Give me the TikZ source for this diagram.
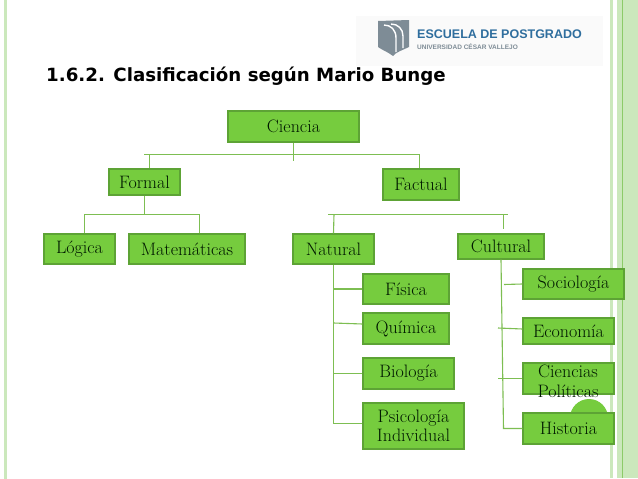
\documentclass[tikz,border=0pt]{standalone}
\usepackage{fontspec}
\newfontfamily\titlefont{DejaVu Sans}
\newfontfamily\logofont{Liberation Sans}
\definecolor{boxfill}{HTML}{76CC3E}
\definecolor{boxline}{HTML}{5DA335}
\definecolor{linkline}{HTML}{7DBE52}
\definecolor{barlight}{HTML}{CBE8BC}
\definecolor{barline}{HTML}{8CCB68}
\definecolor{logoblue}{HTML}{2F6E9E}
\definecolor{logogray}{HTML}{7E8C96}
\tikzset{
  rama/.style={draw=boxline,fill=boxfill,line width=1.2pt,inner sep=0pt,font=\fontsize{18}{18.5}\selectfont,align=center,text=black!90!green},
  enlace/.style={draw=linkline,line width=1.1pt},
}
\begin{document}
\begin{tikzpicture}[x=1pt,y=-1pt]
\useasboundingbox (0,0) rectangle (638,479);
\fill[white] (0,0) rectangle (638,479);
% side bars
\fill[barlight] (4,0) rectangle (7,479);
\fill[barlight] (610,0) rectangle (613,478);
\fill[barlight] (617,0) rectangle (638,478);
\draw[barline,line width=0.8pt] (622.5,0) -- (622.5,478);
% logo
\fill[black!2] (356,16) rectangle (603,66);
\fill[logogray] (378,21) -- (409,20) -- (409,47) .. controls (403,50) and (396,52) .. (393,56) .. controls (388,52) and (382,50) .. (378,47) -- cycle;
\draw[white,line width=1.4pt] (384,25) .. controls (391,25) and (396,30) .. (396,38) -- (396,52);
\draw[white,line width=1.4pt] (391,24) .. controls (398,24) and (403,29) .. (403,36) -- (403,48);
\node[font=\logofont\bfseries\fontsize{12.5}{14}\selectfont,text=logoblue,inner sep=0pt] (escuela) at (499.5,34) {ESCUELA DE POSTGRADO};
\node[font=\logofont\bfseries\fontsize{6.5}{7}\selectfont,text=logogray,inner sep=0pt] (ucv) at (467.5,46.5) {UNIVERSIDAD CÉSAR VALLEJO};
% title
\node[font=\titlefont\bfseries\fontsize{18.2}{20}\selectfont,inner sep=0pt] (titulo) at (246,76) {1.6.2. Clasificación según Mario Bunge};
% circle behind Historia
\fill[boxfill] (589,418) circle (19);
% boxes
\node[rama,minimum width=131pt,minimum height=31pt] (ciencia) at (293.5,126.5) {Ciencia};
\node[rama,minimum width=71pt,minimum height=26pt] (formal) at (144.5,182) {Formal};
\node[rama,minimum width=76pt,minimum height=31pt] (factual) at (421,184.5) {Factual};
\node[rama,minimum width=71pt,minimum height=30pt] (logica) at (79.5,249) {Lógica};
\node[rama,minimum width=116pt,minimum height=30pt] (mate) at (187,249) {Matemáticas};
\node[rama,minimum width=81pt,minimum height=30pt] (natural) at (333.5,249) {Natural};
\node[rama,minimum width=86pt,minimum height=25pt] (cultural) at (501,246.5) {Cultural};
\node[rama,minimum width=86pt,minimum height=30pt] (fisica) at (406,289) {Física};
\node[rama,minimum width=86pt,minimum height=31pt] (quimica) at (406,328.5) {Química};
\node[rama,minimum width=91pt,minimum height=31pt] (biologia) at (408.5,373.5) {Biología};
\node[rama,minimum width=101pt,minimum height=46pt] (psico) at (413.5,426) {Psicología\\Individual};
\node[rama,minimum width=101pt,minimum height=30pt] (socio) at (573.5,284) {Sociología};
\node[rama,minimum width=91pt,minimum height=26pt] (economia) at (568.5,331) {Economía};
\node[rama,minimum width=91pt,minimum height=31pt] (politicas) at (568.5,378.5) {};
\node[font=\fontsize{18}{20}\selectfont,align=center,inner sep=0pt,text=black!90!green] (politicastxt) at (568,381) {Ciencias\\Políticas};
\node[rama,minimum width=91pt,minimum height=31pt] (historia) at (568.5,428.5) {Historia};
% first level
\coordinate (bus0) at (293.5,161);
\coordinate (bus0l) at (144,154.5);
\coordinate (bus0r) at (419.5,154.5);
\coordinate (bus0f) at (149.5,154.5);
\draw[enlace] (ciencia.south) -- (bus0);
\draw[enlace] (bus0l) -- (bus0r) -- (bus0r |- factual.north);
\draw[enlace] (bus0f) -- (bus0f |- formal.north);
% formal
\coordinate (bus1l) at (84.5,214.5);
\coordinate (bus1r) at (199.5,214.5);
\draw[enlace] (formal.south) -- (formal.south |- bus1l);
\draw[enlace] (bus1l |- logica.north) -- (bus1l) -- (bus1r) -- (bus1r |- mate.north);
% factual
\coordinate (bus2l) at (328,214.5);
\coordinate (bus2r) at (508,214.5);
\coordinate (bus2n) at (334,214.5);
\coordinate (bus2c) at (503.5,229);
\draw[enlace] (bus2l) -- (bus2r);
\draw[enlace] (bus2n) -- (natural.north);
\draw[enlace] (bus2c |- bus2l) -- (bus2c);
% natural
\coordinate (tronco1) at (333.5,423.5);
\coordinate (qui0) at (333.5,323);
\draw[enlace] (natural.south) -- (tronco1) -- (tronco1 -| psico.west);
\draw[enlace] (tronco1 |- fisica.west) -- (fisica.west);
\draw[enlace] (qui0) -- (quimica.west |- 0,324);
\draw[enlace] (tronco1 |- biologia.west) -- (biologia.west);
% cultural
\coordinate (tronco2) at (503.5,428.5);
\coordinate (socio0) at (504,284.5);
\coordinate (eco0) at (498,328);
\coordinate (pol0) at (498,378.5);
\draw[enlace] (cultural.south) -- (tronco2) -- (tronco2 -| historia.west);
\draw[enlace] (socio0) -- (socio.west);
\draw[enlace] (eco0) -- (economia.west |- 0,329);
\draw[enlace] (pol0) -- (politicas.west);
\end{tikzpicture}
\end{document}
